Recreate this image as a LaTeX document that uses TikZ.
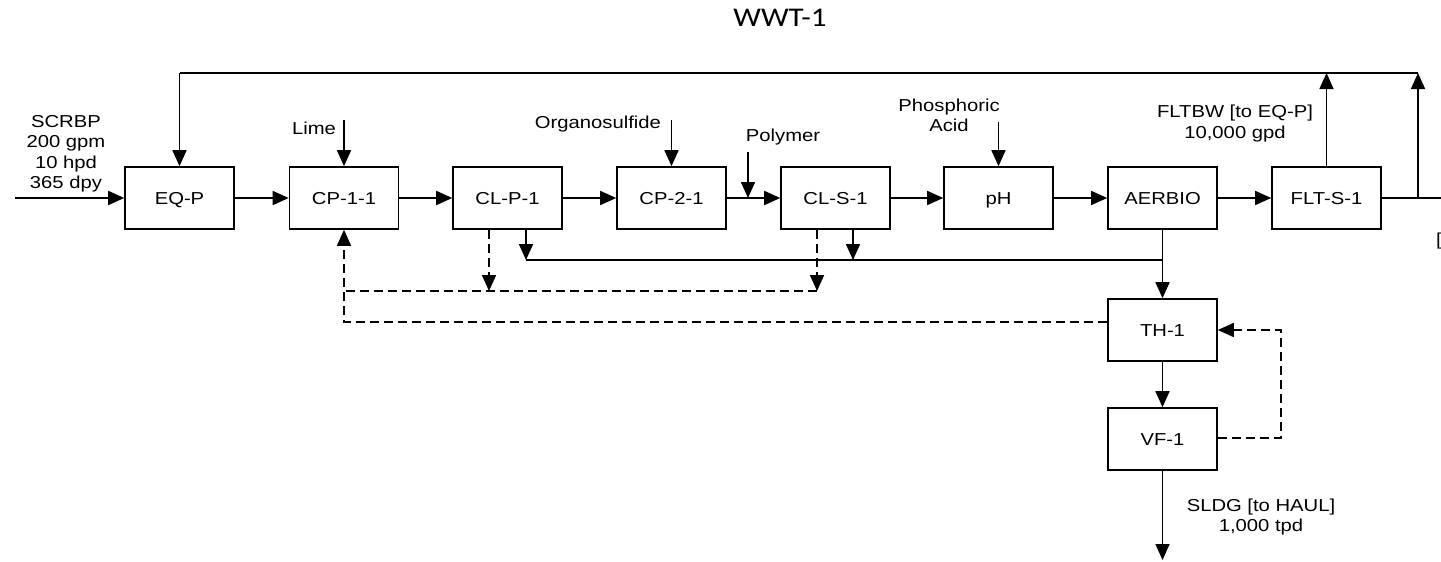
\documentclass[tikz,border=0pt]{standalone}
\usepackage{fontspec}
\setmainfont{Liberation Sans}[FakeStretch=1.17]
\newfontfamily\titlefont{Carlito}[FakeStretch=1.15]
\usetikzlibrary{arrows.meta}
\begin{document}
\begin{tikzpicture}[x=1pt,y=-1pt,
  unit/.style={draw, line width=1.6pt, minimum width=109pt, minimum height=62pt, inner sep=0pt,
    text height=12.3pt, text depth=0pt, font=\fontsize{17.3}{20}\selectfont},
  lbl/.style={inner sep=0pt, font=\fontsize{17.3}{20.5}\selectfont, align=center},
  flow/.style={line width=1.6pt, -{Triangle[length=16pt,width=14pt]}},
  plain/.style={line width=1.6pt},
  dsh/.style={line width=1.6pt, dash pattern=on 9pt off 5pt},
]
\useasboundingbox (0,0) rectangle (1441,562);

% title
\node[inner sep=0pt] (title) at (780,18) {\titlefont\fontsize{27}{30}\selectfont WWT-1};

% units
\node[unit] (eqp)  at (179.5,198) {EQ-P};
\node[unit] (cp11) at (344,198)   {CP-1-1};
\node[unit] (clp1) at (507.5,198) {CL-P-1};
\node[unit] (cp21) at (671.5,198) {CP-2-1};
\node[unit] (cls1) at (835.5,198) {CL-S-1};
\node[unit] (ph)   at (998.5,198) {pH};
\node[unit] (aer)  at (1162.5,198) {AERBIO};
\node[unit] (flt)  at (1326.5,198) {FLT-S-1};
\node[unit] (th)   at (1162.5,330) {TH-1};
\node[unit] (vf)   at (1162.5,439) {VF-1};

% labels
\node[lbl] (scrbp) at (66,154) {SCRBP\\200 gpm\\10 hpd\\365 dpy};
\node[lbl] (lime) at (314,128) {Lime};
\node[lbl] (org) at (598,124) {Organosulfide};
\node[lbl] (pol) at (783,137) {Polymer};
\node[lbl] (phos) at (949,115.5) {Phosphoric\\Acid};
\node[lbl] (fltbw) at (1235,123.5) {FLTBW [to EQ-P]\\10,000 gpd};
\node[lbl] (sldg) at (1261,517) {SLDG [to HAUL]\\1,000 tpd};
\node[lbl, anchor=west] (cut) at (1436,241) {[};

% coordinates
\coordinate (in) at (15,198);
\coordinate (limeS) at (344,120);
\coordinate (orgS) at (671.5,120);
\coordinate (polS) at (748,152);
\coordinate (polE) at (748,198);
\coordinate (phS) at (998.5,122);
\coordinate (topL) at (179.5,73);
\coordinate (topF) at (1326.5,73);
\coordinate (topR) at (1418,73);
\coordinate (outJ) at (1418,198);
\coordinate (outE) at (1441,198);
\coordinate (sl1) at (526,260);
\coordinate (sl2) at (853,260);
\coordinate (slJ) at (1162.5,260);
\coordinate (d1) at (489,291);
\coordinate (d2) at (817,291);
\coordinate (dL) at (344,291);
\coordinate (thL) at (344,322);
\coordinate (rc1) at (1281,438);
\coordinate (rc2) at (1281,330);
\coordinate (sldgE) at (1162.5,560);

% main line
\draw[flow] (in) -- (eqp.west);
\draw[flow] (eqp) -- (cp11);
\draw[flow] (cp11) -- (clp1);
\draw[flow] (clp1) -- (cp21);
\draw[flow] (cp21) -- (cls1);
\draw[flow] (cls1) -- (ph);
\draw[flow] (ph) -- (aer);
\draw[flow] (aer) -- (flt);
\draw[plain] (flt.east) -- (outE);

% chemical feeds
\draw[flow] (limeS) -- (cp11.north);
\draw[flow] (orgS) -- (cp21.north);
\draw[flow] (polS) -- (polE);
\draw[flow] (phS) -- (ph.north);

% recycle at top
\draw[flow] (flt.north) -- (topF);
\draw[flow] (outJ) -- (topR);
\draw[plain] (topR) -- (topL);
\draw[flow] (topL) -- (eqp.north);

% sludge collection
\draw[flow] (clp1.south -| sl1) -- (sl1);
\draw[flow] (cls1.south -| sl2) -- (sl2);
\draw[plain] (sl1) -- (slJ);
\draw[flow] (aer) -- (th);
\draw[flow] (th) -- (vf);
\draw[flow] (vf) -- (sldgE);

% dashed returns
\draw[flow, dsh] (clp1.south -| d1) -- (d1);
\draw[flow, dsh] (cls1.south -| d2) -- (d2);
\draw[dsh] (d2) -- (dL);
\draw[flow, dsh] (thL -| th.west) -- (thL) -- (cp11.south);
\draw[flow, dsh] (vf.east |- rc1) -- (rc1) -- (rc2) -- (th.east |- rc2);
\end{tikzpicture}
\end{document}
